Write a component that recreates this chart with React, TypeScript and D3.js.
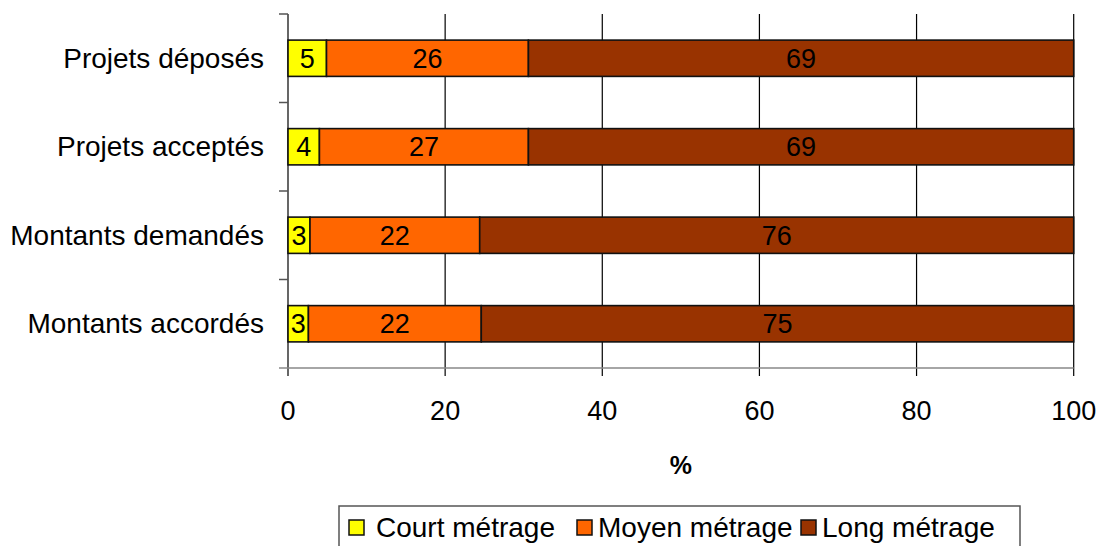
import React from "react";
import * as d3 from "d3";

const categories = ["Projets déposés", "Projets acceptés", "Montants demandés", "Montants accordés"];
const seriesNames = ["Court métrage", "Moyen métrage", "Long métrage"];
const court = [4.9, 4.0, 2.8, 2.6];
const moyen = [25.7, 26.6, 21.6, 22.0];
const long = [69.4, 69.4, 75.6, 75.4];
const labelsCourt = [5, 4, 3, 3];
const labelsMoyen = [26, 27, 22, 22];
const labelsLong = [69, 69, 76, 75];
const xTicks = [0, 20, 40, 60, 80, 100];
const colors = ["#FFFF00", "#FF6600", "#993300"];

const W = 1102, H = 546;
const left = 288, right = 1073.7, top = 14, bottom = 368;
const FONT = "Liberation Sans, Arial, sans-serif";

export default function App() {
  const x = d3.scaleLinear().domain([0, 100]).range([left, right]);
  const y = d3.scaleBand<string>().domain(categories).range([top, bottom]).paddingInner(0.59).paddingOuter(0.295);
  const rows = categories.map((c, i) => ({ c, vals: [court[i], moyen[i], long[i]], labels: [labelsCourt[i], labelsMoyen[i], labelsLong[i]] }));
  const stack = d3.stack<any>().keys(["0", "1", "2"]).value((d, k) => d.vals[+k]);
  const layers = stack(rows);
  const bandStep = (bottom - top) / categories.length;
  const legendItems = [
    { x: 349, tx: 376 },
    { x: 577, tx: 598 },
    { x: 801, tx: 822 },
  ];
  return (
    <svg width={W} height={H} style={{ position: "absolute", left: 0, top: 0 }} fontFamily={FONT}>
      <rect width={W} height={H} fill="#fff" />
      {xTicks.slice(1).map((t) => (
        <line key={t} x1={x(t)} x2={x(t)} y1={top} y2={bottom + 8} stroke="#000" strokeWidth={1.2} />
      ))}
      <line x1={left} x2={left} y1={top} y2={bottom + 8} stroke="#000" strokeWidth={1.2} />
      <line x1={left - 9} x2={right} y1={bottom} y2={bottom} stroke="#888" strokeWidth={1.5} />
      {d3.range(categories.length).map((i) => (
        <line key={i} x1={left - 9} x2={left} y1={top + i * bandStep} y2={top + i * bandStep} stroke="#555" strokeWidth={1.5} />
      ))}
      {layers.map((layer, si) =>
        layer.map((d, i) => {
          const x0 = x(d[0]), x1 = x(d[1]);
          const yy = y(categories[i])!;
          return (
            <g key={si + "-" + i}>
              <rect x={x0} y={yy} width={x1 - x0} height={y.bandwidth()} fill={colors[si]} stroke="#111" strokeWidth={1.6} />
              <text x={(x0 + x1) / 2} y={yy + y.bandwidth() / 2 + 9.5} textAnchor="middle" fontSize={27} fill="#000">
                {rows[i].labels[si]}
              </text>
            </g>
          );
        })
      )}
      {categories.map((c) => (
        <text key={c} x={264} y={y(c)! + y.bandwidth() / 2 + 9.5} textAnchor="end" fontSize={28} fill="#000">{c}</text>
      ))}
      {xTicks.map((t) => (
        <text key={t} x={x(t)} y={420} textAnchor="middle" fontSize={27} fill="#000">{t}</text>
      ))}
      <text x={(left + right) / 2} y={474} textAnchor="middle" fontSize={25} fontWeight="bold" fill="#000">%</text>
      <rect x={339} y={506} width={681} height={60} fill="#fff" stroke="#555" strokeWidth={1.5} />
      {seriesNames.map((s, i) => (
        <g key={s}>
          <rect x={legendItems[i].x} y={520} width={15} height={15} fill={colors[i]} stroke="#111" strokeWidth={1.5} />
          <text x={legendItems[i].tx} y={537} fontSize={28} fill="#000">{s}</text>
        </g>
      ))}
    </svg>
  );
}
